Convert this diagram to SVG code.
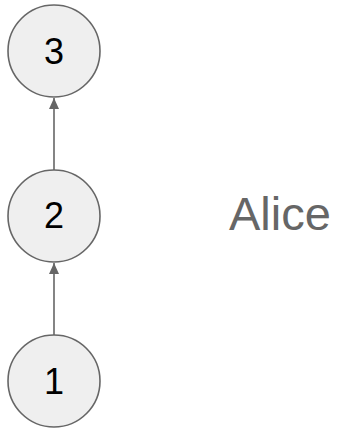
<svg xmlns="http://www.w3.org/2000/svg" width="337" height="429" viewBox="0 0 337 429">
  <style>
    .node circle { fill: #efefef; stroke: #666666; stroke-width: 1.6; }
    .node text { font-family: "Liberation Sans", Arial, sans-serif; font-size: 36px; fill: #000000; text-anchor: middle; }
    .edge { stroke: #666666; stroke-width: 1.6; fill: none; marker-end: url(#arrow); }
    .label { font-family: "Liberation Sans", Arial, sans-serif; font-size: 47px; fill: #666666; }
  </style>
  <defs>
    <marker id="arrow" viewBox="0 0 11 10" refX="11" refY="5" markerWidth="11" markerHeight="10" markerUnits="userSpaceOnUse" orient="auto">
      <path d="M0,0 L11,5 L0,10 Z" fill="#666666"/>
    </marker>
  </defs>
  <rect width="337" height="429" fill="#ffffff"/>
  <g id="edges">
    <line class="edge" x1="54" y1="335" x2="54" y2="263"/>
    <line class="edge" x1="54" y1="170" x2="54" y2="98"/>
  </g>
  <g id="node-3" class="node">
    <circle cx="54" cy="51" r="46"/>
    <text x="54" y="64">3</text>
  </g>
  <g id="node-2" class="node">
    <circle cx="54" cy="216" r="46"/>
    <text x="54" y="228">2</text>
  </g>
  <g id="node-1" class="node">
    <circle cx="54" cy="381" r="46"/>
    <text x="54" y="394">1</text>
  </g>
  <text id="alice" class="label" x="229" y="229.5">Alice</text>
</svg>
